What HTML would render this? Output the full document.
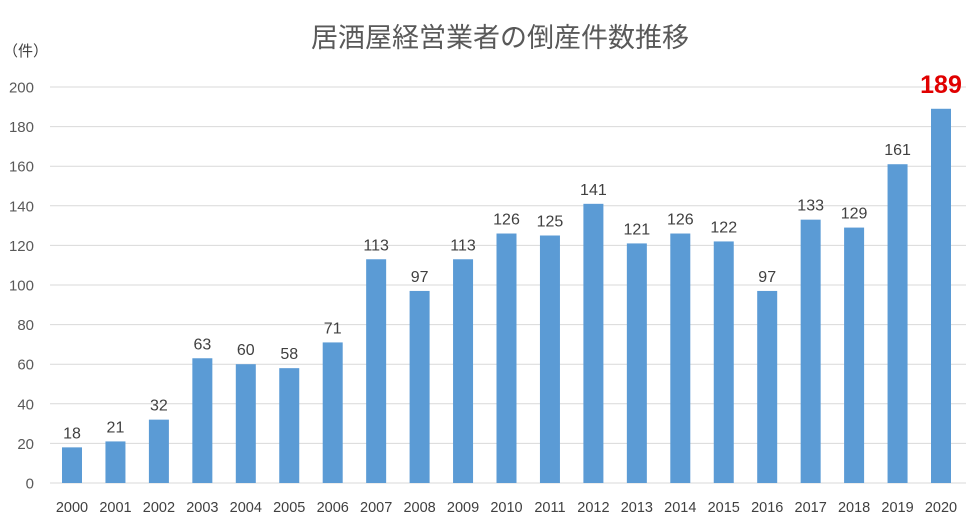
<!DOCTYPE html>
<html><head><meta charset="utf-8"><style>body{margin:0;background:#fff}</style></head><body>
<svg width="975" height="526" xmlns="http://www.w3.org/2000/svg" font-family="'Liberation Sans','Noto Sans CJK JP',sans-serif">
<rect width="975" height="526" fill="#fff"/>
<text x="500" y="47" font-size="27" fill="#595959" text-anchor="middle" font-family="'Noto Sans CJK JP',sans-serif">居酒屋経営業者の倒産件数推移</text>
<text x="3" y="56" font-size="15" fill="#404040" font-family="'Noto Sans CJK JP',sans-serif">（件）</text>
<g stroke="#d9d9d9" stroke-width="1">
<line x1="50" x2="966" y1="483" y2="483"/><line x1="50" x2="966" y1="443.4" y2="443.4"/><line x1="50" x2="966" y1="403.8" y2="403.8"/><line x1="50" x2="966" y1="364.2" y2="364.2"/><line x1="50" x2="966" y1="324.6" y2="324.6"/><line x1="50" x2="966" y1="285" y2="285"/><line x1="50" x2="966" y1="245.4" y2="245.4"/><line x1="50" x2="966" y1="205.8" y2="205.8"/><line x1="50" x2="966" y1="166.2" y2="166.2"/><line x1="50" x2="966" y1="126.6" y2="126.6"/><line x1="50" x2="966" y1="87" y2="87"/>
</g>
<g font-size="15" fill="#595959" text-anchor="end">
<text x="34" y="488.5">0</text><text x="34" y="448.9">20</text><text x="34" y="409.3">40</text><text x="34" y="369.7">60</text><text x="34" y="330.1">80</text><text x="34" y="290.5">100</text><text x="34" y="250.9">120</text><text x="34" y="211.3">140</text><text x="34" y="171.7">160</text><text x="34" y="132.1">180</text><text x="34" y="92.5">200</text>
</g>
<g fill="#5b9bd5">
<rect x="62" y="447.36" width="20" height="35.64"/>
<rect x="105.45" y="441.42" width="20" height="41.58"/>
<rect x="148.9" y="419.64" width="20" height="63.36"/>
<rect x="192.35" y="358.26" width="20" height="124.74"/>
<rect x="235.8" y="364.2" width="20" height="118.8"/>
<rect x="279.25" y="368.16" width="20" height="114.84"/>
<rect x="322.7" y="342.42" width="20" height="140.58"/>
<rect x="366.15" y="259.26" width="20" height="223.74"/>
<rect x="409.6" y="290.94" width="20" height="192.06"/>
<rect x="453.05" y="259.26" width="20" height="223.74"/>
<rect x="496.5" y="233.52" width="20" height="249.48"/>
<rect x="539.95" y="235.5" width="20" height="247.5"/>
<rect x="583.4" y="203.82" width="20" height="279.18"/>
<rect x="626.85" y="243.42" width="20" height="239.58"/>
<rect x="670.3" y="233.52" width="20" height="249.48"/>
<rect x="713.75" y="241.44" width="20" height="241.56"/>
<rect x="757.2" y="290.94" width="20" height="192.06"/>
<rect x="800.65" y="219.66" width="20" height="263.34"/>
<rect x="844.1" y="227.58" width="20" height="255.42"/>
<rect x="887.55" y="164.22" width="20" height="318.78"/>
<rect x="931" y="108.78" width="20" height="374.22"/>
</g>
<g font-size="16" fill="#404040" text-anchor="middle">
<text x="72" y="438.4">18</text>
<text x="115.45" y="432.4">21</text>
<text x="158.9" y="410.6">32</text>
<text x="202.35" y="349.3">63</text>
<text x="245.8" y="355.2">60</text>
<text x="289.25" y="359.2">58</text>
<text x="332.7" y="333.4">71</text>
<text x="376.15" y="250.3">113</text>
<text x="419.6" y="281.9">97</text>
<text x="463.05" y="250.3">113</text>
<text x="506.5" y="224.5">126</text>
<text x="549.95" y="226.5">125</text>
<text x="593.4" y="194.8">141</text>
<text x="636.85" y="234.4">121</text>
<text x="680.3" y="224.5">126</text>
<text x="723.75" y="232.4">122</text>
<text x="767.2" y="281.9">97</text>
<text x="810.65" y="210.7">133</text>
<text x="854.1" y="218.6">129</text>
<text x="897.55" y="155.2">161</text>
</g>
<text x="941" y="93" font-size="25" font-weight="bold" fill="#e00000" text-anchor="middle">189</text>
<g font-size="14.5" fill="#404040" text-anchor="middle">
<text x="72" y="512">2000</text><text x="115.45" y="512">2001</text><text x="158.9" y="512">2002</text><text x="202.35" y="512">2003</text><text x="245.8" y="512">2004</text><text x="289.25" y="512">2005</text><text x="332.7" y="512">2006</text><text x="376.15" y="512">2007</text><text x="419.6" y="512">2008</text><text x="463.05" y="512">2009</text><text x="506.5" y="512">2010</text><text x="549.95" y="512">2011</text><text x="593.4" y="512">2012</text><text x="636.85" y="512">2013</text><text x="680.3" y="512">2014</text><text x="723.75" y="512">2015</text><text x="767.2" y="512">2016</text><text x="810.65" y="512">2017</text><text x="854.1" y="512">2018</text><text x="897.55" y="512">2019</text><text x="941" y="512">2020</text>
</g>
</svg>
</body></html>
